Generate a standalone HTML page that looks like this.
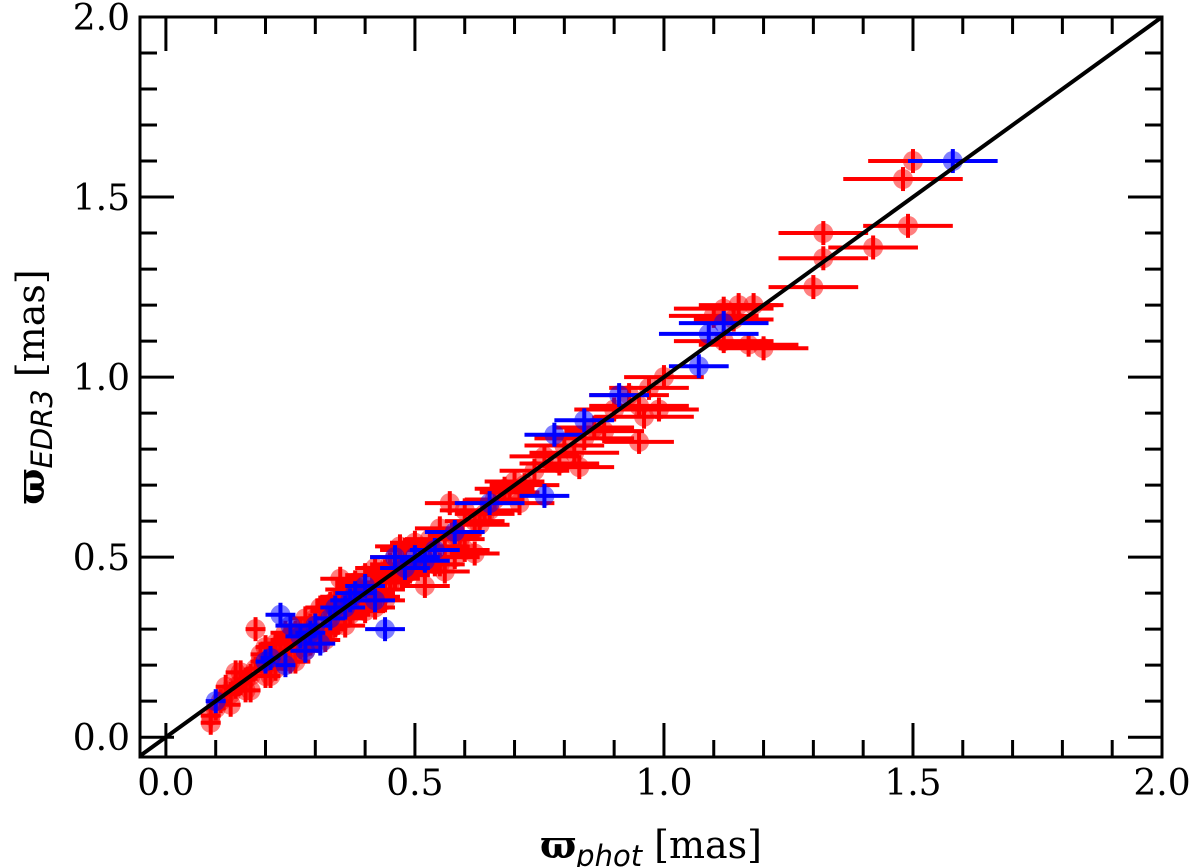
<!DOCTYPE html>
<html><head><meta charset="utf-8"><style>
body{margin:0;background:#fff}
svg{display:block}
text{font-family:"DejaVu Serif","Liberation Serif",serif;fill:#000}
</style></head><body>
<svg id="chart" width="1200" height="867" viewBox="0 0 1200 867" xmlns="http://www.w3.org/2000/svg">
<g id="marks"></g>
<g id="axes"></g>
<text x="651" y="858" text-anchor="middle" font-size="38"><tspan font-weight="bold">ϖ</tspan><tspan font-family="DejaVu Sans" font-style="italic" font-size="29" dy="8">phot</tspan><tspan dy="-8"> [mas]</tspan></text>
<text transform="translate(44,387) rotate(-90)" text-anchor="middle" font-size="38"><tspan font-weight="bold">ϖ</tspan><tspan font-family="DejaVu Sans" font-style="italic" font-size="29" dy="8">EDR3</tspan><tspan dy="-8"> [mas]</tspan></text>
</svg>
<script>
const xTicks=[0.0,0.5,1.0,1.5,2.0];
const yTicks=[0.0,0.5,1.0,1.5,2.0];
const tickLabels=["0.0","0.5","1.0","1.5","2.0"];
const redX=[1.50,1.48,1.49,1.32,1.42,1.32,1.30,1.15,1.12,1.18,1.10,1.14,1.20,1.17,1.12,1.00,0.97,0.93,0.95,0.96,0.99,0.95,0.88,0.86,0.84,0.82,0.80,0.79,0.74,0.72,0.70,0.69,0.71,0.66,0.64,0.62,0.60,0.57,0.58,0.55,0.53,0.56,0.60,0.62,0.50,0.48,0.46,0.45,0.44,0.42,0.40,0.38,0.36,0.35,0.34,0.33,0.32,0.30,0.29,0.28,0.27,0.26,0.25,0.24,0.23,0.22,0.21,0.20,0.19,0.18,0.17,0.16,0.15,0.14,0.13,0.12,0.11,0.10,0.09,0.09,0.12,0.15,0.18,0.22,0.26,0.30,0.34,0.38,0.42,0.46,0.50,0.54,0.58,0.44,0.40,0.36,0.32,0.28,0.24,0.20,0.16,0.48,0.52,0.56,0.39,0.31,0.27,0.23,0.19,0.14,0.35,0.43,0.47,0.51,0.68,0.76,0.83,0.90,0.13,0.17,0.21,0.25,0.29,0.33,0.37,0.41,0.45,0.49,0.53,0.20,0.24,0.28,0.32,0.36,0.40,0.44,0.26,0.34,0.42,0.22,0.30,0.38,0.46,0.55,0.59,0.65,0.63];
const redY=[1.60,1.55,1.42,1.40,1.36,1.33,1.25,1.20,1.19,1.20,1.17,1.16,1.08,1.09,1.10,1.00,0.97,0.95,0.92,0.89,0.91,0.82,0.85,0.86,0.83,0.79,0.81,0.76,0.74,0.70,0.71,0.68,0.65,0.66,0.62,0.60,0.63,0.65,0.56,0.58,0.55,0.53,0.52,0.51,0.54,0.52,0.50,0.48,0.46,0.47,0.45,0.43,0.41,0.39,0.38,0.37,0.35,0.33,0.31,0.33,0.30,0.29,0.28,0.27,0.24,0.23,0.22,0.20,0.21,0.19,0.17,0.16,0.15,0.14,0.12,0.12,0.10,0.08,0.06,0.04,0.14,0.18,0.30,0.26,0.24,0.28,0.33,0.36,0.40,0.44,0.47,0.48,0.50,0.38,0.35,0.31,0.27,0.24,0.21,0.17,0.13,0.45,0.42,0.46,0.37,0.36,0.25,0.26,0.23,0.18,0.44,0.39,0.53,0.49,0.69,0.78,0.75,0.91,0.09,0.13,0.17,0.21,0.26,0.30,0.34,0.38,0.43,0.46,0.50,0.25,0.29,0.25,0.29,0.33,0.38,0.41,0.21,0.31,0.36,0.19,0.28,0.42,0.45,0.48,0.55,0.63,0.59];
const redErr=[0.09,0.12,0.09,0.09,0.09,0.09,0.09,0.08,0.10,0.06,0.09,0.08,0.09,0.10,0.10,0.08,0.08,0.08,0.10,0.10,0.08,0.07,0.08,0.08,0.10,0.09,0.08,0.08,0.07,0.07,0.06,0.06,0.07,0.06,0.06,0.06,0.05,0.05,0.05,0.05,0.05,0.05,0.05,0.05,0.05,0.05,0.05,0.04,0.04,0.04,0.04,0.04,0.04,0.04,0.04,0.03,0.03,0.03,0.03,0.03,0.03,0.03,0.03,0.03,0.03,0.03,0.02,0.02,0.02,0.02,0.02,0.02,0.02,0.02,0.02,0.02,0.02,0.02,0.02,0.02,0.02,0.02,0.02,0.03,0.03,0.03,0.04,0.04,0.04,0.05,0.05,0.05,0.05,0.04,0.04,0.04,0.03,0.03,0.03,0.02,0.02,0.05,0.05,0.05,0.04,0.03,0.03,0.03,0.02,0.02,0.04,0.04,0.05,0.05,0.06,0.07,0.07,0.08,0.02,0.02,0.02,0.03,0.03,0.03,0.04,0.04,0.04,0.05,0.05,0.02,0.03,0.03,0.03,0.04,0.04,0.04,0.03,0.03,0.04,0.02,0.03,0.04,0.04,0.05,0.05,0.06,0.06];
const blueX=[1.58,1.12,1.09,1.07,0.91,0.84,0.78,0.76,0.65,0.58,0.44,0.50,0.46,0.48,0.40,0.38,0.36,0.33,0.30,0.29,0.27,0.25,0.23,0.21,0.20,0.10,0.52,0.42,0.34,0.31,0.54,0.24,0.28,0.37];
const blueY=[1.60,1.15,1.12,1.03,0.95,0.88,0.84,0.67,0.65,0.57,0.30,0.50,0.50,0.47,0.42,0.40,0.36,0.33,0.31,0.29,0.28,0.31,0.34,0.22,0.21,0.10,0.49,0.38,0.36,0.26,0.52,0.20,0.24,0.38];
const blueErr=[0.09,0.09,0.10,0.06,0.06,0.06,0.06,0.05,0.07,0.06,0.04,0.05,0.05,0.05,0.04,0.04,0.04,0.03,0.03,0.03,0.03,0.03,0.03,0.02,0.02,0.02,0.05,0.04,0.03,0.03,0.05,0.02,0.03,0.04];

const X0=140,X1=1162,Y0=17,Y1=757;
const xmin=-0.052,xmax=2.0,ymin=-0.055,ymax=2.0;
const sx=v=>X0+(v-xmin)/(xmax-xmin)*(X1-X0);
const sy=v=>Y1-(v-ymin)/(ymax-ymin)*(Y1-Y0);
const NS="http://www.w3.org/2000/svg";
function mk(tag,attrs,parent){const e=document.createElementNS(NS,tag);for(const k in attrs)e.setAttribute(k,attrs[k]);parent.appendChild(e);return e;}
const marks=document.getElementById('marks');
const axes=document.getElementById('axes');

function drawSeries(xs,ys,es,col,fill,name){
  const g=mk('g',{},marks);
  
  
  for(let i=0;i<xs.length;i++){
    const cx=sx(xs[i]),cy=sy(ys[i]);
    const c=mk('circle',{cx:cx,cy:cy,r:10,fill:fill},g);
    
    
    const h=mk('line',{x1:sx(xs[i]-es[i]),x2:sx(xs[i]+es[i]),y1:cy,y2:cy,stroke:col,'stroke-width':4},g);
    
    
    const v=mk('line',{x1:cx,x2:cx,y1:cy-12,y2:cy+12,stroke:col,'stroke-width':4},g);
    
    
  }
}
drawSeries(redX,redY,redErr,'#ff0000','rgba(255,0,0,0.5)','red');
drawSeries(blueX,blueY,blueErr,'#0000ff','rgba(0,0,255,0.5)','blue');

const diag=mk('line',{x1:sx(xmin),y1:sy(xmin),x2:sx(2),y2:sy(2),stroke:'#000','stroke-width':4},marks);



const frame=mk('rect',{x:X0,y:Y0,width:X1-X0,height:Y1-Y0,fill:'none',stroke:'#000','stroke-width':3},axes);



for(let k=0;k<=20;k++){
  const v=k/10, major=(k%5===0), L=major?34:17;
  const px=sx(v), py=sy(v);
  [[px,Y1,px,Y1-L],[px,Y0,px,Y0+L]].forEach(a=>{
    const t=mk('line',{x1:a[0],y1:a[1],x2:a[2],y2:a[3],stroke:'#000','stroke-width':3},axes);
    
    
  });
  [[X0,py,X0+L,py],[X1,py,X1-L,py]].forEach(a=>{
    const t=mk('line',{x1:a[0],y1:a[1],x2:a[2],y2:a[3],stroke:'#000','stroke-width':3},axes);
    
    
  });
}
xTicks.forEach((v,i)=>{
  const t=mk('text',{x:sx(v),y:795,'text-anchor':'middle','font-size':36},axes);
  t.textContent=tickLabels[i];
  
  
});
yTicks.forEach((v,i)=>{
  const t=mk('text',{x:130,y:sy(v)+13,'text-anchor':'end','font-size':36},axes);
  t.textContent=tickLabels[i];
  
  
});
</script>
</body></html>
